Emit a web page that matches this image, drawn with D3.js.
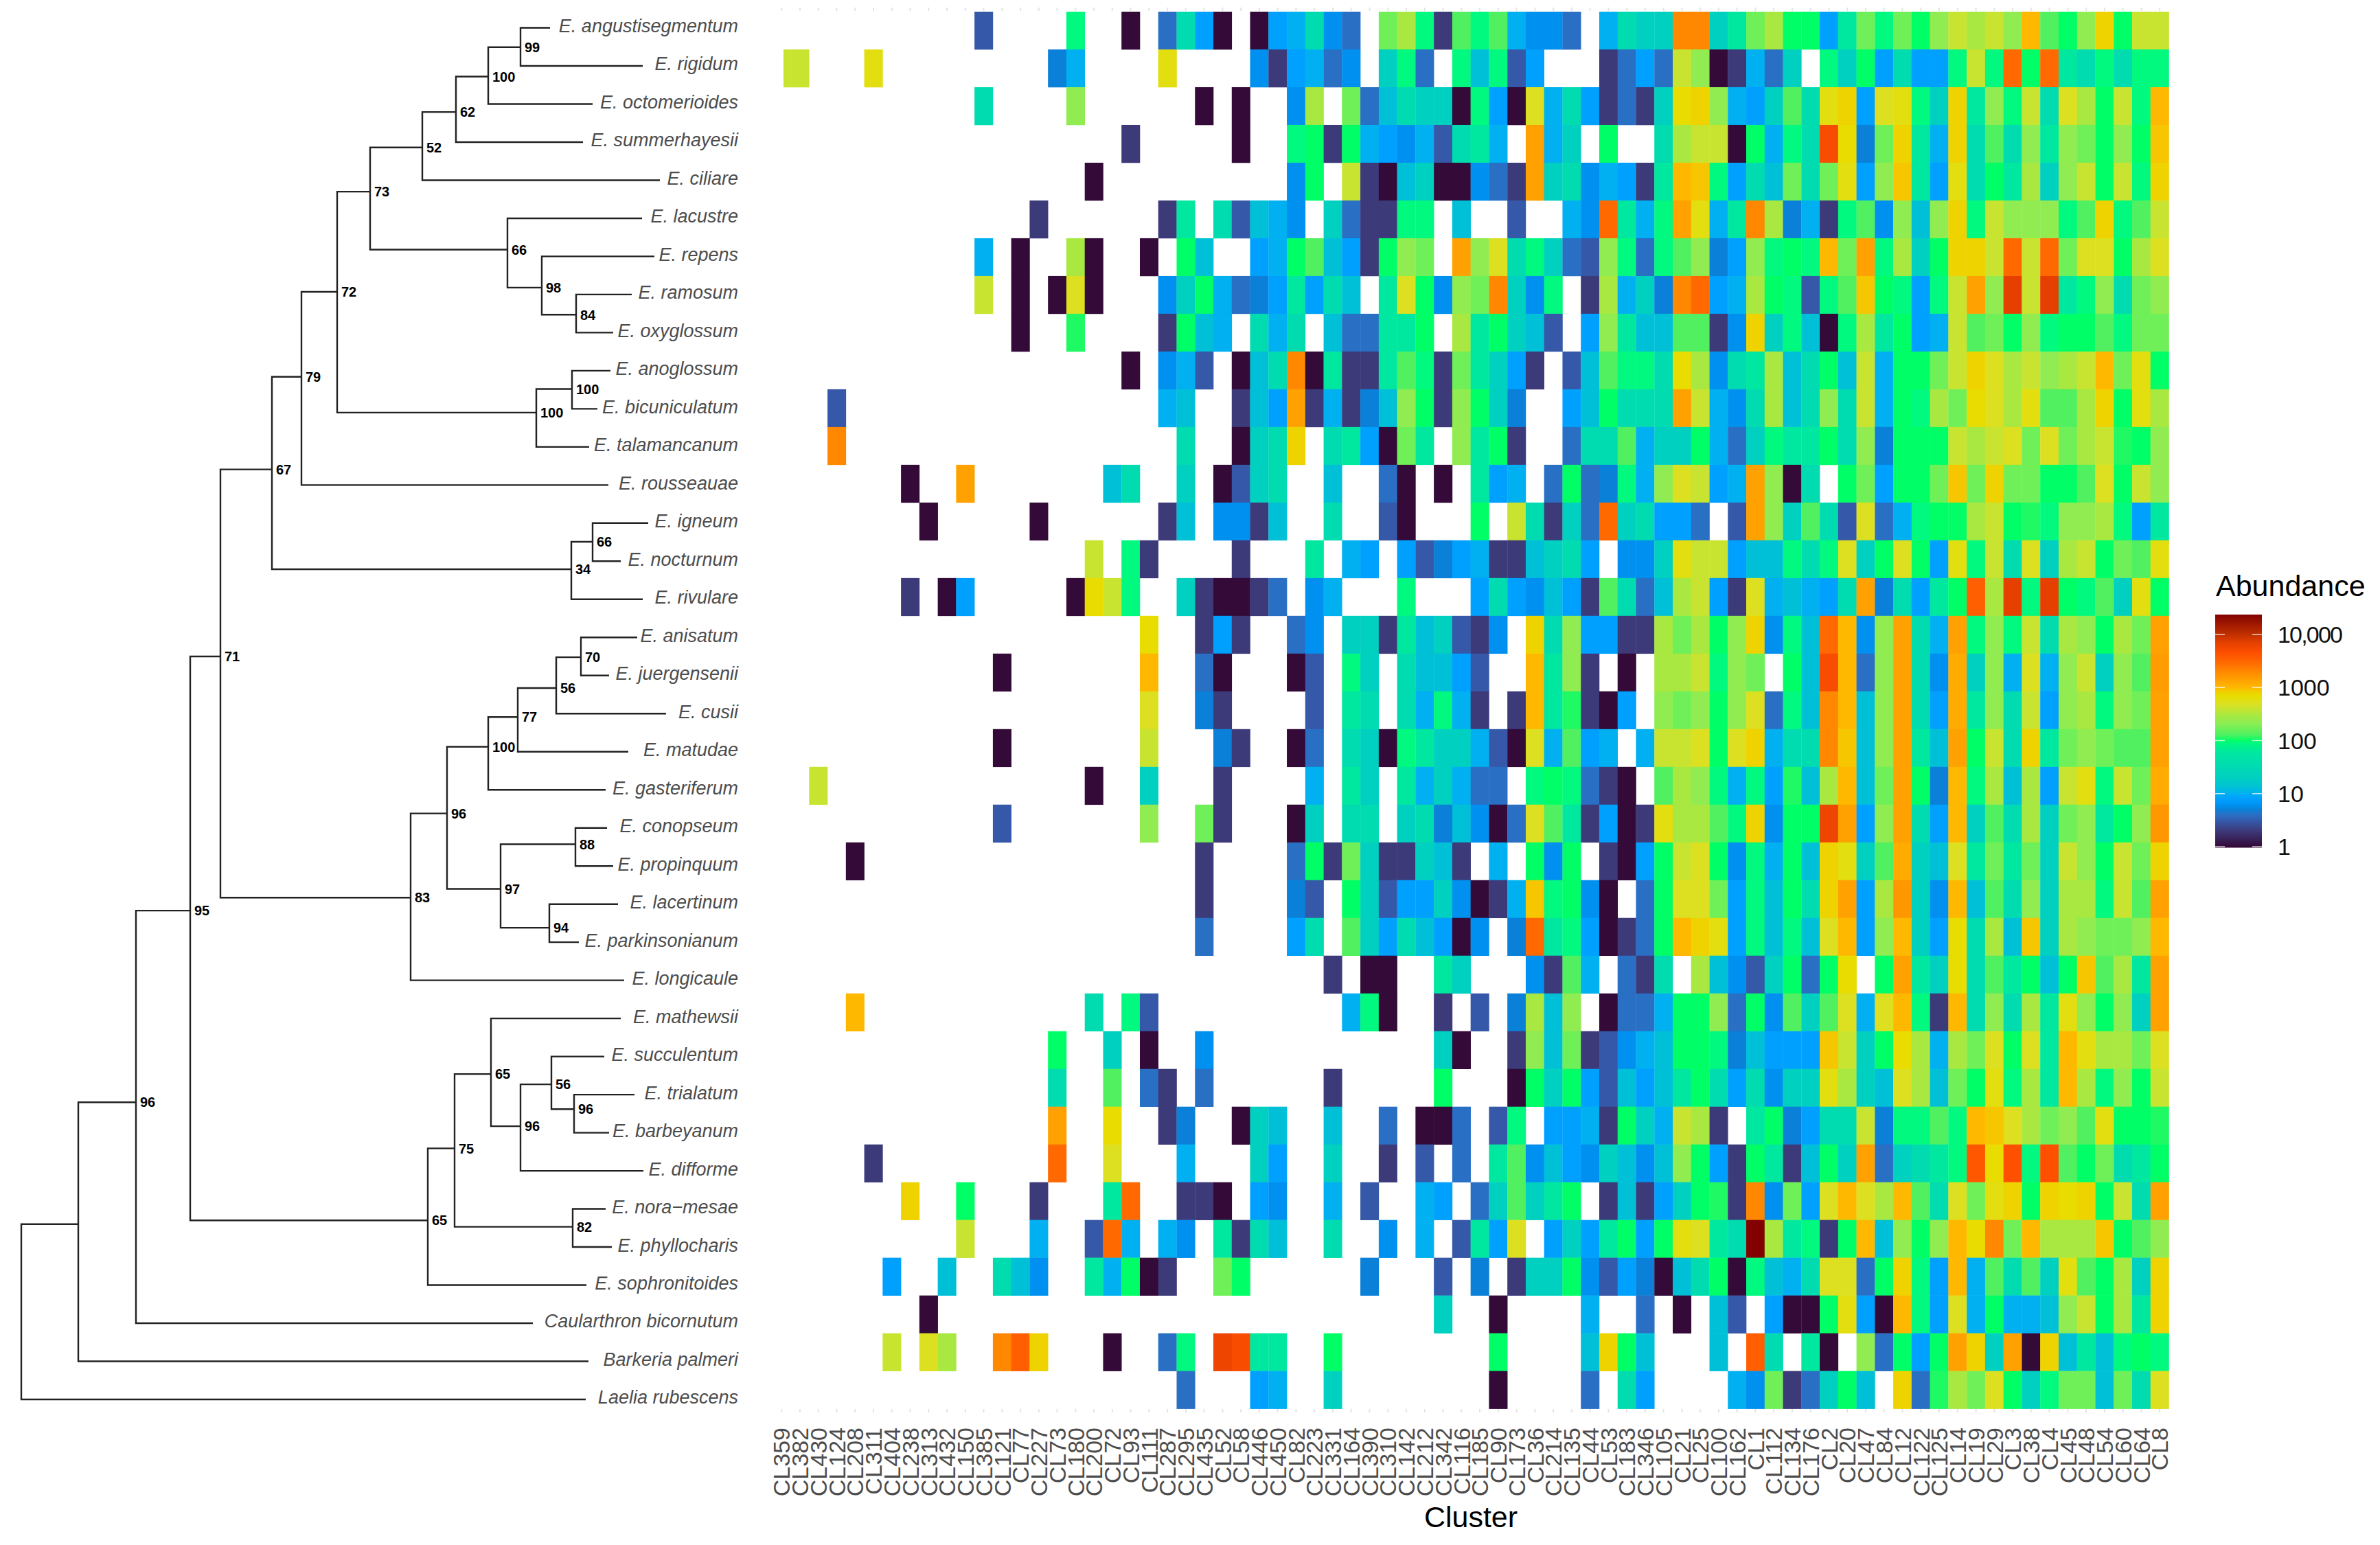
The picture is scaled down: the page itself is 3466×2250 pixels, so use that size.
<!DOCTYPE html>
<html><head><meta charset="utf-8">
<script src="https://cdn.jsdelivr.net/npm/d3@7"></script>
<style>html,body{margin:0;padding:0;background:#fff}svg{display:block}text{font-family:"Liberation Sans",Arial,sans-serif}</style>
</head><body><svg id="c" width="3466" height="2250"></svg>
<script>
const clusters = ["CL359","CL382","CL430","CL124","CL208","CL311","CL404","CL238","CL313","CL432","CL150","CL385","CL121","CL77","CL227","CL73","CL180","CL200","CL72","CL93","CL111","CL287","CL295","CL435","CL52","CL58","CL446","CL450","CL82","CL223","CL331","CL164","CL390","CL310","CL142","CL212","CL342","CL116","CL185","CL90","CL173","CL36","CL214","CL135","CL44","CL53","CL183","CL346","CL105","CL21","CL25","CL100","CL162","CL1","CL112","CL134","CL176","CL2","CL20","CL47","CL84","CL12","CL122","CL125","CL14","CL19","CL29","CL3","CL38","CL4","CL45","CL48","CL54","CL60","CL64","CL8"];
const species = ["E. angustisegmentum","E. rigidum","E. octomerioides","E. summerhayesii","E. ciliare","E. lacustre","E. repens","E. ramosum","E. oxyglossum","E. anoglossum","E. bicuniculatum","E. talamancanum","E. rousseauae","E. igneum","E. nocturnum","E. rivulare","E. anisatum","E. juergensenii","E. cusii","E. matudae","E. gasteriferum","E. conopseum","E. propinquum","E. lacertinum","E. parkinsonianum","E. longicaule","E. mathewsii","E. succulentum","E. trialatum","E. barbeyanum","E. difforme","E. nora\u2212mesae","E. phyllocharis","E. sophronitoides","Caularthron bicornutum","Barkeria palmeri","Laelia rubescens"];

const r00=[0,0,0,0,0,0,0,0,0,0, 0,3,0,0,0,0,90,0,0,1, 0,4,35,8,1,0,1,8,10,35, 6,4,0,170,300,90,2,130,90,130, 10,6,6,4,0,10,35,20,20,2000, 2000,20,60,170,300,100,100,8,60,170, 90,170,100,220,400,300,400,220,1000,130, 100,220,800,100,400,400];
const r01=[400,400,0,0,0,600,0,0,0,0, 0,0,0,0,0,5,10,0,0,0, 0,600,0,0,0,0,6,2,8,10, 4,6,0,20,90,4,0,90,13,90, 3,8,0,0,0,2,4,8,4,400, 220,1,2,10,4,20,0,90,20,100, 8,35,8,8,90,400,90,3000,100,3000, 60,35,90,35,90,90];
const r02=[0,0,0,0,0,0,0,0,0,0, 0,35,0,0,0,0,220,0,0,0, 0,0,0,1,0,1,0,0,6,300, 0,170,4,13,35,20,20,1,90,8, 1,500,10,35,8,2,4,2,20,700, 800,220,10,8,20,130,35,600,800,8, 500,600,90,20,800,60,220,90,400,35, 500,300,100,400,90,1000];
const r03=[0,0,0,0,0,0,0,0,0,0, 0,0,0,0,0,0,0,0,0,2, 0,0,0,0,0,1,0,0,90,100, 2,100,10,8,6,10,3,35,60,10, 0,1400,10,20,0,100,0,0,35,300, 400,400,1,100,10,90,35,5000,700,5, 170,800,60,10,800,35,130,35,220,60, 220,170,100,220,100,900];
const r04=[0,0,0,0,0,0,0,0,0,0, 0,0,0,0,0,0,0,1,0,0, 0,0,0,0,0,0,0,0,6,100, 0,400,2,1,13,20,1,1,6,4, 2,1400,20,35,6,10,8,2,60,1000, 900,90,8,35,13,170,35,170,600,8, 220,900,60,8,600,35,100,60,300,20, 220,400,100,400,90,800];
const r05=[0,0,0,0,0,0,0,0,0,0, 0,0,0,0,2,0,0,0,0,0, 0,2,60,0,35,3,13,10,6,0, 20,4,2,2,90,90,0,13,0,0, 3,0,0,10,6,3000,60,10,90,1400, 600,10,60,2000,300,5,10,2,90,130, 6,220,13,220,800,90,400,220,220,220, 90,130,800,90,130,400];
const r06=[0,0,0,0,0,0,0,0,0,0, 0,10,0,1,0,0,300,1,0,0, 1,0,100,13,0,0,8,10,100,130, 13,8,2,100,220,170,0,1400,220,500, 35,90,20,4,3,220,90,4,90,130, 220,5,8,220,90,100,90,1000,170,1400, 90,300,20,100,800,800,400,3000,400,3000, 170,500,500,100,300,500];
const r07=[0,0,0,0,0,0,0,0,0,0, 0,400,0,1,0,1,500,1,0,0, 0,6,20,100,10,4,5,8,60,8, 35,13,0,60,500,100,6,220,170,2000, 20,6,90,0,2,300,10,20,5,2000, 3000,8,10,300,100,90,3,90,130,900, 100,90,8,90,400,1400,220,7000,400,7000, 60,90,220,35,170,220];
const r08=[0,0,0,0,0,0,0,0,0,0, 0,0,0,1,0,0,110,0,0,0, 0,2,100,13,10,0,35,10,35,0, 13,4,4,60,60,100,0,300,60,100, 20,13,3,0,8,220,60,13,13,130, 130,2,6,800,20,90,13,1,90,300, 60,100,8,10,400,130,170,100,220,90, 100,100,130,90,170,170];
const r09=[0,0,0,0,0,0,0,0,0,0, 0,0,0,0,0,0,0,0,0,1, 0,6,10,3,0,1,13,35,2000,1, 60,2,2,60,130,90,2,170,60,20, 8,2,0,3,13,130,90,90,35,700, 300,6,35,60,300,13,35,100,13,400, 10,100,100,170,400,800,500,300,400,220, 300,400,1000,170,600,100];
const r10=[0,0,0,3,0,0,0,0,0,0, 0,0,0,0,0,0,0,0,0,0, 0,10,13,0,0,2,13,8,1400,2, 10,2,5,13,220,100,2,220,100,20, 5,0,0,8,13,100,35,35,35,1400, 400,10,6,35,300,13,35,220,35,400, 10,100,90,300,170,700,500,300,600,130, 130,300,800,100,600,300];
const r11=[0,0,0,2000,0,0,0,0,0,0, 0,0,0,0,0,0,0,0,0,0, 0,0,35,0,0,1,20,35,800,0, 35,60,8,1,170,60,0,220,60,100, 2,0,0,4,35,35,130,10,20,20, 100,10,4,20,90,60,60,100,35,220, 5,100,100,100,400,300,400,500,170,500, 170,300,400,110,100,220];
const r12=[0,0,0,0,0,0,0,1,0,0, 1400,0,0,0,0,0,0,0,13,35, 0,0,20,0,1,3,20,35,0,0, 13,0,0,4,1,0,1,0,60,8, 10,0,4,100,4,5,90,10,220,500, 400,8,10,1400,220,1,35,0,100,170, 8,100,100,170,900,170,800,170,170,100, 100,130,500,100,400,220];
const r13=[0,0,0,0,0,0,0,0,1,0, 0,0,0,0,1,0,0,0,0,0, 0,2,13,0,6,6,2,13,0,0, 35,0,0,3,1,0,0,0,100,0, 400,35,2,20,4,3000,20,35,8,8, 4,0,3,1400,220,20,130,35,3,500, 4,10,90,100,100,300,400,100,110,90, 220,220,300,90,8,60];
const r14=[0,0,0,0,0,0,0,0,0,0, 0,0,0,0,0,0,0,400,0,90, 2,0,0,0,0,2,0,0,0,60, 0,10,8,0,8,3,5,8,10,2, 2,13,20,35,8,0,6,6,20,600, 400,400,8,13,13,90,35,90,500,20, 100,500,100,8,600,90,400,35,500,20, 300,400,100,170,130,600];
const r15=[0,0,0,0,0,0,0,2,0,1, 8,0,0,0,0,0,1,700,400,90, 0,0,20,2,1,1,2,4,0,6, 10,0,0,0,90,0,0,0,8,35, 8,6,13,8,2,130,35,4,13,300, 400,8,2,500,10,13,10,8,35,1400, 5,35,8,60,100,3500,300,7000,90,7000, 100,90,130,20,600,100];
const r16=[0,0,0,0,0,0,0,0,0,0, 0,0,0,0,0,0,0,0,0,0, 700,0,0,2,8,2,0,0,4,6, 0,20,20,2,60,13,20,3,2,6, 0,800,35,220,8,8,2,2,300,170, 300,100,220,800,6,90,13,3000,1000,6, 220,1400,35,10,1400,90,220,90,400,35, 300,220,100,300,170,1400];
const r17=[0,0,0,0,0,0,0,0,0,0, 0,0,1,0,0,0,0,0,0,0, 1000,0,0,4,1,0,0,0,1,3, 0,90,20,0,35,13,13,8,3,0, 0,1000,60,220,2,0,1,0,300,300, 400,90,220,170,0,100,13,5000,1000,4, 220,1400,35,6,1200,20,220,10,500,10, 220,400,20,220,130,1500];
const r18=[0,0,0,0,0,0,0,0,0,0, 0,0,0,0,0,0,0,0,0,0, 500,0,0,5,2,0,0,0,0,3, 0,60,35,0,35,10,90,10,2,0, 2,1000,60,110,2,1,8,0,220,170, 220,100,220,500,4,90,13,2000,1000,13, 220,1400,35,8,1200,60,220,35,400,8, 220,300,90,220,170,1400];
const r19=[0,0,0,0,0,0,0,0,0,0, 0,0,1,0,0,0,0,0,0,0, 400,0,0,0,5,2,0,0,1,4, 0,35,20,1,90,60,20,20,10,3, 1,500,10,130,8,10,0,10,400,400, 500,100,500,800,10,35,35,2000,900,13, 220,1400,60,13,1400,100,400,35,800,60, 170,220,170,130,130,1400];
const r20=[0,0,400,0,0,0,0,0,0,0, 0,0,0,0,0,0,0,1,0,0, 20,0,0,0,2,0,0,0,0,10, 0,60,20,0,60,10,20,10,4,4, 0,90,100,90,4,2,1,0,130,300, 220,90,10,90,8,110,13,300,1000,13, 170,1400,100,5,1000,90,300,13,300,8, 400,600,90,400,170,1200];
const r21=[0,0,0,0,0,0,0,0,0,0, 0,0,3,0,0,0,0,0,0,0, 220,0,0,170,2,0,0,0,1,20, 0,35,35,0,20,35,5,13,6,1, 4,500,130,60,2,8,1,2,600,300, 300,130,90,800,6,100,100,6000,1400,8, 220,1400,35,8,1000,20,130,35,300,20, 170,220,60,100,220,1600];
const r22=[0,0,0,0,1,0,0,0,0,0, 0,0,0,0,0,0,0,0,0,0, 0,0,0,2,0,0,0,0,4,100, 2,170,20,2,2,20,13,2,0,10, 0,100,6,100,0,2,1,8,100,400, 500,100,6,90,10,100,13,800,600,20, 130,1200,20,13,500,60,170,60,170,20, 400,220,100,400,170,800];
const r23=[0,0,0,0,0,0,0,0,0,0, 0,0,0,0,0,0,0,0,0,0, 0,0,0,2,0,0,0,0,5,3, 0,100,20,3,8,8,20,6,1,2, 10,900,90,100,6,1,0,4,100,500, 500,170,8,90,13,100,35,800,1400,8, 300,1600,20,6,1000,13,130,35,220,20, 300,300,90,400,130,1400];
const r24=[0,0,0,0,0,0,0,0,0,0, 0,0,0,0,0,0,0,0,0,0, 0,0,0,4,0,0,0,0,8,35, 0,130,20,8,35,13,8,1,6,0, 5,3000,60,90,8,1,2,4,100,1000, 800,600,8,90,13,90,13,500,1000,8, 220,1000,20,8,700,35,300,13,900,20, 300,220,170,170,220,1000];
const r25=[0,0,0,0,0,0,0,0,0,0, 0,0,0,0,0,0,0,0,0,0, 0,0,0,0,0,0,0,0,0,0, 2,0,1,1,0,0,60,20,0,0, 0,6,2,130,10,0,4,2,35,0, 300,13,6,3,20,100,4,100,700,0, 100,1400,60,20,700,35,130,60,100,13, 100,900,130,300,60,1400];
const r26=[0,0,0,0,1000,0,0,0,0,0, 0,0,0,0,0,0,0,35,0,90, 3,0,0,0,0,0,0,0,0,0, 0,10,90,1,0,0,2,0,3,0, 5,300,13,220,0,1,4,4,10,100, 100,220,4,100,6,130,20,130,500,10, 500,1000,90,2,1000,35,220,35,300,60, 600,220,100,220,20,1400];
const r27=[0,0,0,0,0,0,0,0,0,0, 0,0,0,0,0,100,0,0,20,0, 1,0,0,6,0,0,0,0,0,0, 0,0,0,0,0,0,20,1,0,0, 2,220,13,170,2,3,6,10,13,100, 100,90,5,13,8,8,8,900,400,20, 100,700,300,10,300,170,500,100,500,60, 1000,600,300,300,170,500];
const r28=[0,0,0,0,0,0,0,0,0,0, 0,0,0,0,0,35,0,0,130,0, 4,2,0,4,0,0,0,0,0,0, 2,0,0,0,0,0,100,0,0,0, 1,100,20,100,8,3,13,8,13,60, 100,35,8,35,6,20,20,600,300,20, 13,500,300,13,170,100,600,90,300,60, 1000,300,90,220,100,400];
const r29=[0,0,0,0,0,0,0,0,0,0, 0,0,0,0,0,1400,0,0,700,0, 0,2,5,0,0,1,20,13,0,0, 13,0,0,4,0,1,1,4,0,3, 90,0,8,8,10,2,100,20,10,400, 300,2,0,60,100,5,8,35,35,400, 5,90,90,130,90,1000,900,500,300,170, 220,130,600,100,100,110];
const r30=[0,0,0,0,0,2,0,0,0,0, 0,0,0,0,0,3000,0,0,500,0, 0,0,10,0,0,0,20,8,0,0, 20,0,0,2,0,3,0,4,0,60, 130,6,13,8,6,20,13,6,13,220, 100,8,2,100,60,2,13,100,20,1400, 4,20,35,60,90,4000,700,4500,90,4500, 130,100,170,35,60,100];
const r31=[0,0,0,0,0,0,0,800,0,0, 100,0,0,0,2,0,0,0,60,3000, 0,0,2,2,1,0,8,6,0,0, 10,0,3,0,0,10,8,0,4,20, 130,20,60,100,0,2,13,2,8,20, 100,110,2,2000,6,170,8,500,1000,500, 300,1000,130,35,500,170,600,800,100,800, 700,800,100,400,35,1400];
const r32=[0,0,0,0,0,0,0,0,0,0, 400,0,0,0,10,0,0,3,3000,10, 0,10,6,0,60,2,35,13,0,0, 35,0,0,6,0,10,0,3,60,8, 500,0,8,20,8,60,100,8,100,600, 500,60,35,24000,300,60,90,2,100,1000, 13,220,100,220,1000,700,2000,170,1000,300, 300,300,900,100,130,220];
const r33=[0,0,0,0,0,0,8,0,0,13, 0,0,35,13,6,0,0,60,10,100, 1,2,0,0,170,100,0,0,0,0, 0,0,5,0,0,0,3,0,5,0, 2,20,20,100,6,3,8,5,1,13, 35,100,1,90,13,10,35,500,500,4, 100,800,90,8,1000,10,130,35,130,20, 600,130,100,300,20,800];
const r34=[0,0,0,0,0,0,0,0,1,0, 0,0,0,0,0,0,0,0,0,0, 0,0,0,0,0,0,0,0,0,0, 0,0,0,0,0,0,20,0,0,1, 0,0,0,0,10,0,0,4,0,1, 0,13,3,0,8,1,1,100,600,8, 1,1000,90,8,500,10,100,10,10,13, 220,400,100,300,60,800];
const r35=[0,0,0,0,0,0,400,0,500,300, 0,0,2000,3500,800,0,0,0,1,0, 0,4,90,0,6000,5000,60,60,0,0, 100,0,0,0,0,0,0,0,0,100, 0,0,0,0,13,800,100,13,0,0, 0,13,0,3500,35,0,60,1,0,220, 4,100,8,100,1400,800,20,1400,1,800, 13,60,13,90,100,90];
const r36=[0,0,0,0,0,0,0,0,0,0, 0,0,0,0,0,0,0,0,0,0, 0,0,4,0,0,0,8,10,0,0, 20,0,0,0,0,0,0,0,0,1, 0,0,0,0,4,0,35,8,0,0, 0,0,10,6,170,2,4,20,100,13, 0,800,4,110,300,170,500,100,20,90, 170,170,13,170,35,500];
const abundance=[r00,r01,r02,r03,r04,r05,r06,r07,r08,r09,r10,r11,r12,r13,r14,r15,r16,r17,r18,r19,r20,r21,r22,r23,r24,r25,r26,r27,r28,r29,r30,r31,r32,r33,r34,r35,r36];

// Tree: branch depth (arbitrary units), row position, bootstrap support
const treeIds     =["root","n96a","n96b","n95","n71","n67","n79","n72","n73","n52","n62","n100a","n99","n66","n98","n84","n100c","n100b","n34","n66b","n83","n96c","n100d","n77","n56","n70","n97","n88","n94","n65c","n75","n65b","n96d","n56b","n96e","n82"];
const treeParents =["","root","n96a","n96b","n95","n71","n67","n79","n72","n73","n52","n62","n100a","n73","n66","n98","n72","n100c","n67","n34","n71","n83","n96c","n100d","n77","n56","n96c","n97","n97","n95","n65c","n75","n65b","n96d","n56b","n75"];
const treeDepths  =[3.1,11.4,19.8,27.7,32.1,39.6,43.9,49.1,53.9,61.5,66.4,71.1,75.8,73.9,78.9,83.9,78.1,83.3,83.2,86.3,59.8,65.1,71.1,75.4,81.0,84.6,72.9,83.8,80.0,62.3,66.2,71.5,75.8,80.3,83.6,83.4];
const treeRows    =[33.7,31.4,28.2,23.17,16.5,11.59,9.16,6.93,4.3,3.14,2.21,1.28,0.51,5.82,6.82,7.53,10.1,9.48,14.21,13.49,22.83,20.62,18.87,18.09,17.33,16.52,22.6,21.43,23.62,31.3,29.41,27.46,28.83,27.73,28.38,31.47];
const treeSupport =["","","96","95","71","67","79","72","73","52","62","100","99","66","98","84","100","100","34","66","83","96","100","77","56","70","97","88","94","65","75","65","96","56","96","82"];
const tipParents  =["n99","n99","n100a","n62","n52","n66","n98","n84","n84","n100b","n100b","n100c","n79","n66b","n66b","n34","n70","n70","n56","n77","n100d","n88","n88","n94","n94","n83","n65b","n56b","n96e","n96e","n96d","n82","n82","n65c","n96b","n96a","root"];
const tipDepths   =[80.1,93.6,86.3,84.9,96.1,93.5,95.3,92.0,89.3,88.9,87.0,85.8,88.6,94.4,90.4,93.6,92.8,88.7,97.0,91.5,88.2,88.4,89.3,90.0,84.3,90.9,90.4,88.0,92.4,88.7,93.7,88.2,89.1,85.4,77.6,85.7,85.3];

// Legend / colour scale
const legendTicks=[1,10,100,1000,10000];
const legendMax=24500;
const colourLogStops=[0,.30,.477,.60,.70,.78,.90,1,1.11,1.30,1.54,1.78,1.95,2,2.11,2.23,2.34,2.48,2.60,2.70,2.85,2.92,3,3.15,3.3,3.48,3.65,3.85,4,4.39];
const colourStops=["#330a38","#3d3a7a","#3558a8","#2a6fc4","#0a80d8","#0090f0","#00a0ff","#00b0f0","#00c0d8","#00d0c0","#00dcb0","#00e8a0","#00f880","#00ff66","#50f060","#70f058","#90ec50","#a8e840","#c8e430","#dce020","#e8dc00","#f0d000","#ffb800","#ffa000","#ff8800","#ff6800","#ff5000","#e44000","#c03000","#800000"];

const svg=d3.select("#c");
const colour=d3.scaleLinear().domain(colourLogStops).range(colourStops).clamp(true);
const xCell=d3.scaleBand().domain(clusters).range([1124.8,3158.5]);
const yCell=d3.scaleBand().domain(species).range([17,2051.6]);

svg.append("defs").append("clipPath").attr("id","hm").append("rect")
  .attr("x",1141).attr("y",0).attr("width",2040).attr("height",2250);

// heatmap
const cells=[];
abundance.forEach((row,i)=>row.forEach((v,j)=>{if(v>0)cells.push({s:species[i],c:clusters[j],v});}));
svg.append("g").attr("clip-path","url(#hm)").selectAll("rect").data(cells).join("rect")
  .attr("x",d=>xCell(d.c)).attr("y",d=>yCell(d.s))
  .attr("width",xCell.bandwidth()+.3).attr("height",yCell.bandwidth()+.3)
  .attr("fill",d=>colour(Math.log10(d.v)));

// x axis
const axB=svg.append("g").attr("transform","translate(0,2052)")
  .call(d3.axisBottom(xCell).tickSize(5).tickPadding(0));
axB.select(".domain").remove();
axB.selectAll(".tick line").attr("stroke","#e4e4e4").attr("stroke-width",2);
axB.selectAll(".tick text").attr("transform","rotate(-90)")
  .attr("text-anchor","end").attr("x",-27).attr("y",0).attr("dy",".36em")
  .attr("fill","#4d4d4d").style("font-size","34px");
const axT=svg.append("g").attr("transform","translate(0,16)")
  .call(d3.axisTop(xCell).tickSize(5).tickFormat(""));
axT.select(".domain").remove();
axT.selectAll(".tick line").attr("stroke","#e4e4e4").attr("stroke-width",2);

svg.append("text").attr("x",2142).attr("y",2224).attr("text-anchor","middle")
  .style("font-size","43px").attr("fill","#000").text("Cluster");

// tree
const xTree=d3.scaleLinear().domain([0,100]).range([0,1000]);
const yTree=d3.scaleLinear().domain([0,36]).range([40.5,2038]);
const treeTable=treeIds.map((id,i)=>({id,parent:treeParents[i]||null,depth0:treeDepths[i],row:treeRows[i],support:treeSupport[i]}))
  .concat(species.map((s,i)=>({id:"tip"+i,parent:tipParents[i],depth0:tipDepths[i],row:i,support:"",name:s})));
const root=d3.stratify().id(d=>d.id).parentId(d=>d.parent)(treeTable);
const links=root.links();
const path=d3.path();
links.forEach(l=>{
  path.moveTo(xTree(l.source.data.depth0),yTree(l.source.data.row));
  path.lineTo(xTree(l.source.data.depth0),yTree(l.target.data.row));
  path.lineTo(xTree(l.target.data.depth0),yTree(l.target.data.row));
});
svg.append("path").attr("d",path.toString()).attr("fill","none").attr("stroke","#222").attr("stroke-width",2.4);

svg.append("g").selectAll("text").data(root.descendants().filter(d=>d.data.support)).join("text")
  .attr("x",d=>xTree(d.data.depth0)+6).attr("y",d=>yTree(d.data.row)).attr("dy",".36em")
  .attr("font-weight","bold").attr("fill","#000").style("font-size","20px").text(d=>d.data.support);

svg.append("g").selectAll("text").data(species).join("text")
  .attr("x",1075).attr("y",(d,i)=>yTree(i)-3).attr("dy",".35em").attr("text-anchor","end")
  .attr("font-style","italic").attr("fill","#4d4d4d").style("font-size","27px").text(d=>d);

// legend
const yLeg=d3.scaleLog().domain([1,10000]).range([1233,924]);
const legendY=d3.range(0,339);
svg.append("g").selectAll("rect").data(legendY).join("rect")
  .attr("x",3226).attr("width",68).attr("y",d=>895+d).attr("height",1.5)
  .attr("fill",d=>colour(Math.log10(yLeg.invert(895+d+.5))));
const lg=svg.append("g");
lg.selectAll("g").data(legendTicks).join(enter=>{
  const g=enter.append("g");
  g.append("line").attr("x1",3226).attr("x2",3240).attr("y1",yLeg).attr("y2",yLeg);
  g.append("line").attr("x1",3280).attr("x2",3294).attr("y1",yLeg).attr("y2",yLeg);
  g.selectAll("line").attr("stroke","#fff").attr("stroke-opacity",.75).attr("stroke-width",1.5);
  g.append("text").attr("x",3317).attr("y",yLeg).attr("dy",".36em").attr("fill","#111")
    .style("font-size","34px").attr("textLength",d=>d===10000?95:null).text(d=>d===10000?"10,000":d3.format("d")(d));
  return g;
});
svg.append("text").attr("x",3227).attr("y",868).style("font-size","43px").attr("fill","#000").text("Abundance");
</script></body></html>
